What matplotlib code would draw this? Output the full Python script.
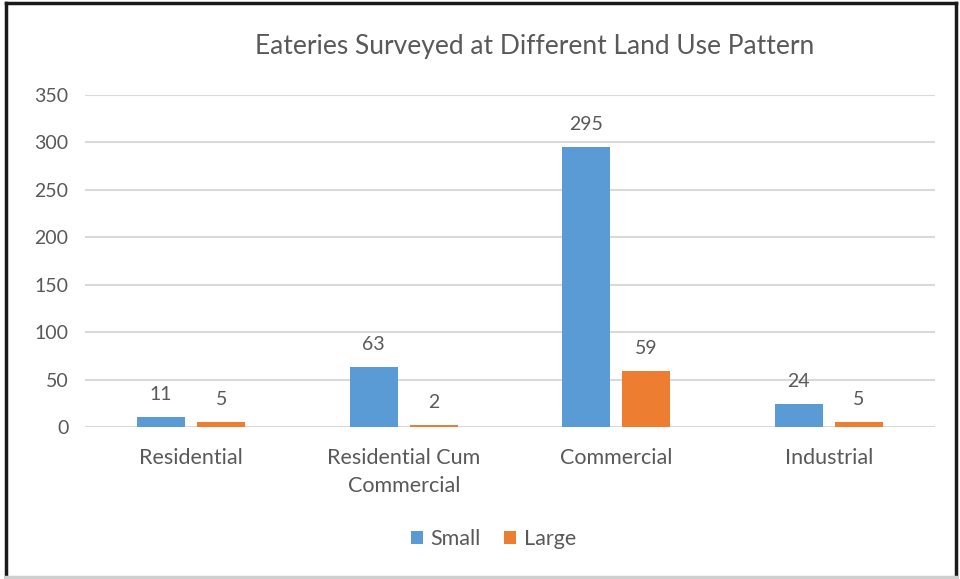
import matplotlib.pyplot as plt
import numpy as np
from matplotlib.lines import Line2D

categories = ["Residential", "Residential Cum\nCommercial", "Commercial", "Industrial"]
small = [11, 63, 295, 24]
large = [5, 2, 59, 5]
yticks = [0, 50, 100, 150, 200, 250, 300, 350]

BLUE = "#5B9BD5"
ORANGE = "#ED7D31"
TEXT = "#595959"
GRID = "#D9D9D9"

plt.rcParams["font.family"] = ["Lato", "DejaVu Sans"]

fig = plt.figure(figsize=(9.6, 5.79), dpi=100)
ax = fig.add_axes([0.0885, 0.2625, 0.8855, 0.5734])

x = np.arange(len(categories))
w = 0.226
off = 0.142
b1 = ax.bar(x - off, small, w, color=BLUE, label="Small", zorder=3)
b2 = ax.bar(x + off, large, w, color=ORANGE, label="Large", zorder=3)

for bars, vals in ((b1, small), (b2, large)):
    for r, v in zip(bars, vals):
        ax.annotate(str(v), (r.get_x() + r.get_width() / 2, v),
                    xytext=(0, 10), textcoords="offset points",
                    ha="center", va="bottom", fontsize=14, color=TEXT)

ax.set_xlim(-0.5, len(categories) - 0.5)
ax.set_ylim(0, 350)
ax.set_yticks(yticks)
ax.set_xticks(x)
ax.set_xticklabels(categories, linespacing=1.5)
ax.tick_params(axis="y", length=0, pad=12, labelsize=14, labelcolor=TEXT)
ax.tick_params(axis="x", length=0, pad=15, labelsize=15.5, labelcolor=TEXT)
ax.grid(axis="y", color=GRID, lw=1.5, zorder=0)
for s in ax.spines.values():
    s.set_visible(False)

fig.text(0.557, 0.92, "Eateries Surveyed at Different Land Use Pattern",
         ha="center", va="center", fontsize=19, color=TEXT)

leg = fig.legend(handles=[b1, b2], labels=["Small", "Large"], loc="center",
                 bbox_to_anchor=(0.514, 0.069), ncol=2, frameon=False,
                 fontsize=15.5, handlelength=0.55, handleheight=0.55,
                 handletextpad=0.35, columnspacing=1.1)
for t in leg.get_texts():
    t.set_color(TEXT)

# outer frame
W, H = 960, 579
fx = lambda p: p / W
fy = lambda p: 1 - p / H
fig.add_artist(Line2D([fx(6), fx(6)], [fy(3), fy(577)], color="#1a1a1a", lw=2.5))
fig.add_artist(Line2D([fx(6), fx(956)], [fy(3), fy(3)], color="#1a1a1a", lw=2.5))
fig.add_artist(Line2D([fx(956), fx(956)], [fy(3), fy(577)], color="#1a1a1a", lw=2.5))
fig.add_artist(Line2D([fx(6), fx(956)], [fy(577), fy(577)], color="#cfcfcf", lw=2.5))

fig.savefig("out.png", dpi=100)
